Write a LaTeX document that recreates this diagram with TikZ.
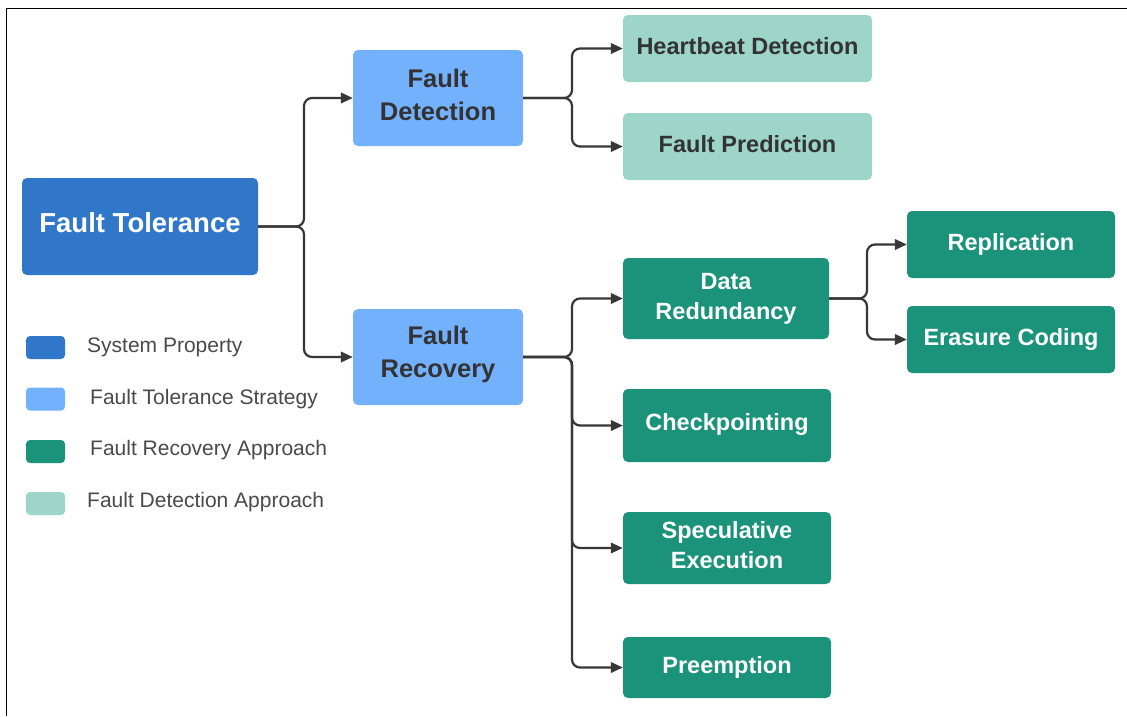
\documentclass[tikz,border=0pt]{standalone}
\usepackage{fontspec}
\setmainfont{Liberation Sans}
\usetikzlibrary{arrows.meta}
\definecolor{sysblue}{RGB}{48,119,201}
\definecolor{stratblue}{RGB}{116,177,253}
\definecolor{recteal}{RGB}{27,147,122}
\definecolor{detteal}{RGB}{157,213,200}
\definecolor{darktext}{RGB}{51,51,51}
\definecolor{legtext}{RGB}{74,74,74}
\definecolor{conncol}{RGB}{55,55,55}
\tikzset{
  box/.style={rectangle, rounded corners=5pt, inner sep=0pt, align=center, font=\bfseries},
  sysbox/.style={box, fill=sysblue, text=white, font=\bfseries\fontsize{27.5}{31}\selectfont},
  stratbox/.style={box, fill=stratblue, text=darktext, font=\bfseries\fontsize{25.5}{33}\selectfont},
  detbox/.style={box, fill=detteal, text=darktext, font=\bfseries\fontsize{23.5}{30}\selectfont},
  recbox/.style={box, fill=recteal, text=white, font=\bfseries\fontsize{23.5}{30}\selectfont},
  swatch/.style={rectangle, rounded corners=4pt, minimum width=39pt, minimum height=23pt, inner sep=0pt},
  legend/.style={anchor=west, text=legtext, inner sep=0pt, font=\fontsize{21}{24}\selectfont},
  conn/.style={draw=conncol, line width=2.2pt, rounded corners=8pt, -{Triangle[length=12pt,width=10.5pt]}},
}
\begin{document}
\begin{tikzpicture}[x=1pt,y=-1pt]
\fill[white] (0,0) rectangle (1127,716);
\useasboundingbox (0,0) rectangle (1127,716);
\draw[line width=1.5pt] (6.5,716) -- (6.5,8.5) -- (1127,8.5);

% nodes
\node[sysbox, minimum width=236pt, minimum height=97pt, text depth=8pt] (ft) at (140,226.5) {Fault Tolerance};
\node[stratbox, minimum width=170pt, minimum height=96pt, text depth=7pt] (fd) at (438,98) {Fault\\Detection};
\node[stratbox, minimum width=170pt, minimum height=96pt, text depth=9.5pt] (fr) at (438,357) {Fault\\Recovery};
\node[detbox, minimum width=249pt, minimum height=67pt, text depth=6pt] (hb) at (747.5,48.5) {Heartbeat Detection};
\node[detbox, minimum width=249pt, minimum height=67pt, text depth=6pt] (fp) at (747.5,146.5) {Fault Prediction};
\node[recbox, minimum width=206pt, minimum height=81pt] (dr) at (726,298.5) {Data\\Redundancy};
\node[recbox, minimum width=208pt, minimum height=73pt, text depth=7pt] (cp) at (727,425.5) {Checkpointing};
\node[recbox, minimum width=208pt, minimum height=72pt, text depth=7pt] (se) at (727,548) {Speculative\\Execution};
\node[recbox, minimum width=208pt, minimum height=61pt] (pe) at (727,667.5) {Preemption};
\node[recbox, minimum width=208pt, minimum height=67pt] (rp) at (1011,244.5) {Replication};
\node[recbox, minimum width=208pt, minimum height=67pt] (ec) at (1011,339.5) {Erasure Coding};

% connectors
\coordinate (j1) at (304,0);
\coordinate (j2) at (572,0);
\coordinate (j3) at (867,0);
\draw[conn] (ft.east) -- (ft.east -| j1) -- (fd.west -| j1) -- (fd.west);
\draw[conn] (ft.east) -- (ft.east -| j1) -- (fr.west -| j1) -- (fr.west);
\draw[conn] (fd.east) -- (fd.east -| j2) -- (hb.west -| j2) -- (hb.west);
\draw[conn] (fd.east) -- (fd.east -| j2) -- (fp.west -| j2) -- (fp.west);
\draw[conn] (fr.east) -- (fr.east -| j2) -- (dr.west -| j2) -- (dr.west);
\draw[conn] (fr.east) -- (fr.east -| j2) -- (cp.west -| j2) -- (cp.west);
\draw[conn] (fr.east) -- (fr.east -| j2) -- (se.west -| j2) -- (se.west);
\draw[conn] (fr.east) -- (fr.east -| j2) -- (pe.west -| j2) -- (pe.west);
\draw[conn] (dr.east) -- (dr.east -| j3) -- (rp.west -| j3) -- (rp.west);
\draw[conn] (dr.east) -- (dr.east -| j3) -- (ec.west -| j3) -- (ec.west);

% legend
\node[swatch, fill=sysblue] (s1) at (45.5,347.5) {};
\node[swatch, fill=stratblue] (s2) at (45.5,399) {};
\node[swatch, fill=recteal] (s3) at (45.5,451.5) {};
\node[swatch, fill=detteal] (s4) at (45.5,503.5) {};
\node[legend] (l1) at (87,347.5) {System Property};
\node[legend] (l2) at (90,399) {Fault Tolerance Strategy};
\node[legend] (l3) at (90,450.5) {Fault Recovery Approach};
\node[legend] (l4) at (87,502) {Fault Detection Approach};
\end{tikzpicture}
\end{document}
